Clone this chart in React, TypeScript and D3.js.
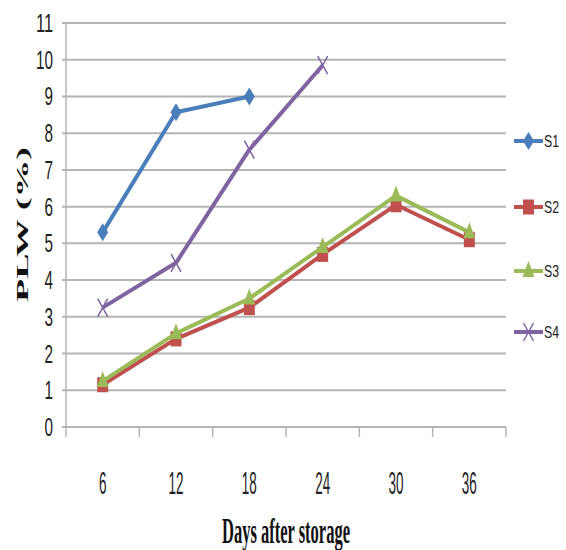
import React from 'react';
import * as d3 from 'd3';

const days = ['6', '12', '18', '24', '30', '36'];
const s1 = [5.3, 8.57, 9.0];
const s2 = [1.15, 2.4, 3.25, 4.7, 6.05, 5.1];
const s3 = [1.25, 2.55, 3.5, 4.9, 6.3, 5.3];
const s4 = [3.25, 4.47, 7.55, 9.85];
const yTicks = [0, 1, 2, 3, 4, 5, 6, 7, 8, 9, 10, 11];

const series = [
  {name: 'S1', values: s1, color: '#4A7EBB', marker: 'diamond'},
  {name: 'S2', values: s2, color: '#C0504D', marker: 'square'},
  {name: 'S3', values: s3, color: '#9BBB59', marker: 'triangle'},
  {name: 'S4', values: s4, color: '#8064A2', marker: 'x'},
];

const W = 566;
const H = 550;
const left = 66, right = 506, top = 23, bottom = 427;
const GRID = '#B4B4B4';

const x = d3.scaleBand().domain(days).range([left, right]);
const y = d3.scaleLinear().domain([0, 11]).range([bottom, top]);
const cx = (d: string) => (x(d) as number) + x.bandwidth() / 2;

function Marker({kind, px, py, color}: {kind: string, px: number, py: number, color: string}) {
  if (kind === 'diamond') {
    return <path d={`M${px},${py - 9}L${px + 5.5},${py}L${px},${py + 9}L${px - 5.5},${py}Z`} fill={color} />;
  }
  if (kind === 'square') {
    return <rect x={px - 5.5} y={py - 7.5} width={11} height={15} fill={color} />;
  }
  if (kind === 'triangle') {
    return <path d={`M${px},${py - 10}L${px + 6},${py + 6}L${px - 6},${py + 6}Z`} fill={color} />;
  }
  return <path d={`M${px - 5},${py - 9}L${px + 5},${py + 9}M${px - 5},${py + 9}L${px + 5},${py - 9}`}
    stroke={color} strokeWidth={1.5} fill="none" />;
}

const App = () => {
  const line = d3.line<number>()
    .x((d, i) => cx(days[i]))
    .y(d => y(d));

  const tickFont = '"Liberation Sans", Arial, sans-serif';
  const serif = '"Liberation Serif", "Times New Roman", serif';

  return (
    <svg width={W} height={H} style={{position: 'absolute', left: 0, top: 0, background: '#fff'}}>
      {/* gridlines */}
      {yTicks.map(t => (
        <line key={'g' + t} x1={left - 4} x2={right} y1={y(t)} y2={y(t)} stroke={GRID} strokeWidth={2} />
      ))}
      {/* y axis */}
      <line x1={left} x2={left} y1={top} y2={bottom} stroke={GRID} strokeWidth={1.5} />
      {/* x ticks */}
      {days.map(d => (
        <line key={'t' + d} x1={x(d)} x2={x(d)} y1={bottom} y2={bottom + 10} stroke={GRID} strokeWidth={1.5} />
      ))}
      <line x1={right} x2={right} y1={bottom} y2={bottom + 10} stroke={GRID} strokeWidth={1.5} />

      {/* y tick labels */}
      {yTicks.map(t => {
        const s = String(t);
        const len = s.length * 8.5;
        return (
          <text key={'yl' + t} x={53 - len} y={y(t) + 9} fontFamily={tickFont} fontSize={25}
            fill="#222" textLength={len} lengthAdjust="spacingAndGlyphs">{s}</text>
        );
      })}

      {/* x tick labels */}
      {days.map(d => {
        const len = d.length * 7.5;
        return (
          <text key={'xl' + d} x={cx(d) - len / 2} y={494} fontFamily={tickFont} fontSize={31}
            fill="#222" textLength={len} lengthAdjust="spacingAndGlyphs">{d}</text>
        );
      })}

      {/* axis titles */}
      <text x={222} y={543} fontFamily={serif} fontWeight="bold" fontSize={35} fill="#111"
        textLength={128} lengthAdjust="spacingAndGlyphs">Days after storage</text>
      <text transform="translate(28,302) rotate(-90)" x={0} y={0} fontFamily={serif} fontWeight="bold"
        fontSize={17} fill="#111" textLength={155} lengthAdjust="spacingAndGlyphs">PLW (%)</text>

      {/* series */}
      {series.map(s => (
        <g key={s.name}>
          <path d={line(s.values) || ''} fill="none" stroke={s.color} strokeWidth={4} strokeLinejoin="round" />
          {s.values.map((v, i) => (
            <Marker key={i} kind={s.marker} px={cx(days[i])} py={y(v)} color={s.color} />
          ))}
        </g>
      ))}

      {/* legend */}
      {series.map((s, i) => {
        const ly = [141, 207, 271, 332][i];
        return (
          <g key={'lg' + s.name}>
            <line x1={514} x2={543} y1={ly} y2={ly} stroke={s.color} strokeWidth={4} />
            <Marker kind={s.marker} px={528.5} py={ly} color={s.color} />
            <text x={544} y={ly + 6} fontFamily={tickFont} fontSize={16} fill="#222"
              textLength={15} lengthAdjust="spacingAndGlyphs">{s.name}</text>
          </g>
        );
      })}
    </svg>
  );
};

export default App;
